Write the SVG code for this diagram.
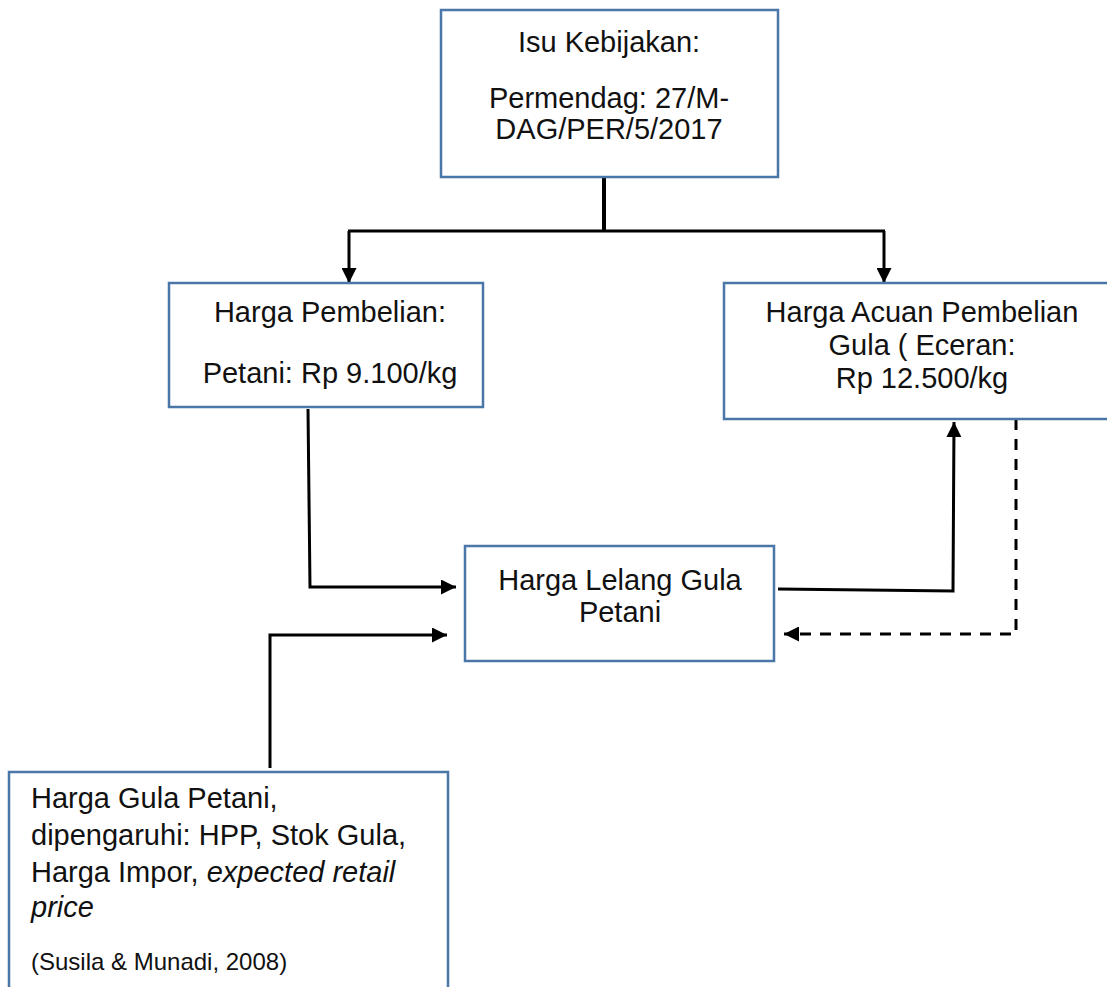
<svg xmlns="http://www.w3.org/2000/svg" width="1107" height="987" viewBox="0 0 1107 987">
<style>
.box{fill:#fff;stroke:#4a76a8;stroke-width:2.5}
.t{font-family:"Liberation Sans",Arial,sans-serif;font-size:29px;fill:#111}
.c{text-anchor:middle}
.ln{fill:none;stroke:#000;stroke-width:3}
.dash{stroke-dasharray:11 9}
</style>
<defs>
<marker id="ah" viewBox="0 0 15 15" refX="15" refY="7.5" markerWidth="15" markerHeight="15" markerUnits="userSpaceOnUse" orient="auto">
<path d="M0,0 L15,7.5 L0,15 z" fill="#000"/>
</marker>
</defs>
<rect width="1107" height="987" fill="#fff"/>
<g id="connectors">
<line class="ln" x1="604" y1="177" x2="604" y2="231" style="stroke-width:4"/>
<line class="ln" x1="348" y1="231" x2="885" y2="231"/>
<path class="ln" d="M349,231 L349,283" marker-end="url(#ah)"/>
<path class="ln" d="M884,231 L884,283" marker-end="url(#ah)"/>
<path class="ln" d="M308,409 L310,587 L456,587" marker-end="url(#ah)"/>
<path class="ln" d="M270,768 L270,635 L447,635" marker-end="url(#ah)"/>
<path class="ln" d="M778,589 L953,591 L954,422" marker-end="url(#ah)"/>
<path class="ln dash" d="M1016,419 L1016,634 L784,634" marker-end="url(#ah)"/>
</g>
<g id="node-isu">
<rect class="box" x="441" y="10" width="337" height="167"/>
<text class="t c" x="609" y="52">Isu Kebijakan:</text>
<text class="t c" x="609" y="108">Permendag: 27/M-</text>
<text class="t c" x="609" y="139">DAG/PER/5/2017</text>
</g>
<g id="node-pembelian">
<rect class="box" x="169" y="283" width="314" height="124"/>
<text class="t c" x="330" y="322">Harga Pembelian:</text>
<text class="t c" x="330" y="383">Petani: Rp 9.100/kg</text>
</g>
<g id="node-acuan">
<rect class="box" x="724" y="283" width="400" height="136"/>
<text class="t c" x="922" y="322">Harga Acuan Pembelian</text>
<text class="t c" x="922" y="355">Gula ( Eceran:</text>
<text class="t c" x="922" y="388">Rp 12.500/kg</text>
</g>
<g id="node-lelang">
<rect class="box" x="465" y="546" width="309" height="115"/>
<text class="t c" x="620" y="590">Harga Lelang Gula</text>
<text class="t c" x="620" y="622">Petani</text>
</g>
<g id="node-gula-petani">
<rect class="box" x="9" y="772" width="439" height="240"/>
<text class="t" x="31" y="808">Harga Gula Petani,</text>
<text class="t" x="31" y="845">dipengaruhi: HPP, Stok Gula,</text>
<text class="t" x="31" y="882">Harga Impor, <tspan font-style="italic">expected retail</tspan></text>
<text class="t" x="31" y="917" font-style="italic">price</text>
<text class="t" x="31" y="970" style="font-size:24px">(Susila &amp; Munadi, 2008)</text>
</g>
</svg>
